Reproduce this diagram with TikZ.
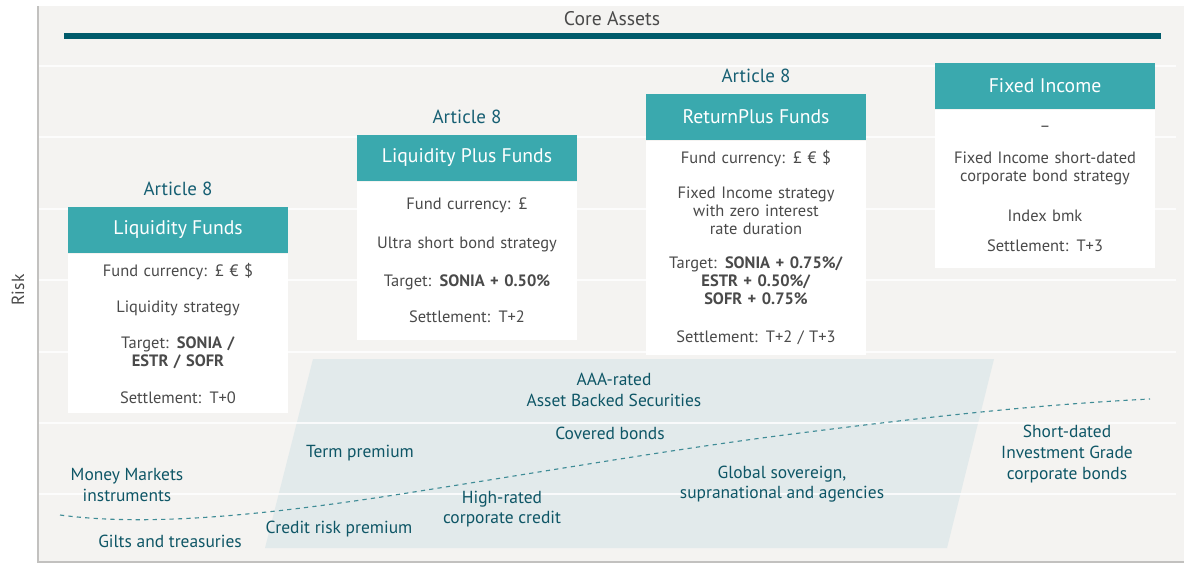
\documentclass[tikz,border=0pt]{standalone}
\usepackage{fontspec}
\setmainfont{PT Sans}
\usetikzlibrary{positioning}
\definecolor{panelbg}{HTML}{F4F3F1}
\definecolor{framegray}{HTML}{C2C1BF}
\definecolor{coreline}{HTML}{005B6B}
\definecolor{headteal}{HTML}{3AA9AE}
\definecolor{bodygray}{HTML}{4A4A4A}
\definecolor{arttxt}{HTML}{165F73}
\definecolor{assettxt}{HTML}{0E5666}
\definecolor{zonefill}{HTML}{E2EAEB}
\definecolor{curvecol}{HTML}{3F8C96}

\begin{document}
\begin{tikzpicture}[x=0.025cm,y=-0.025cm,
  header/.style={fill=headteal,text=white,minimum width=5.5cm,minimum height=1.15cm,
    inner sep=0pt,font=\fontsize{14}{16}\selectfont},
  body/.style={fill=white,text=bodygray,text width=5.5cm,align=center,inner sep=0pt,
    font=\fontsize{11.7}{12.8}\selectfont},
  artlabel/.style={text=arttxt,font=\fontsize{13.5}{16}\selectfont},
  asset/.style={text=assettxt,align=center,font=\fontsize{12.4}{14.6}\selectfont}]
  \useasboundingbox[fill=white] (0,0) rectangle (1200,575);

  % panel and grid
  \fill[panelbg] (37,6) rectangle (1184,562);
  \fill[zonefill] (313,359) -- (994,359) -- (947,548) -- (265,548) -- cycle;
  \foreach \y in {66,137,209,280,352,423,494}
    \draw[white,line width=1.1pt,opacity=0.8] (38,\y) -- (1176,\y);
  \draw[framegray,line width=1.4pt] (38,6) -- (38,562) -- (1184,562);

  % core assets
  \node[text=bodygray,font=\fontsize{14}{16}\selectfont] (core) at (612,19) {Core Assets};
  \draw[coreline,line width=4.2pt] (64,36) -- (1161,36);
  \node[rotate=90,text=bodygray,font=\fontsize{12.5}{14}\selectfont] (risk) at (18,290) {Risk};

  % funds
  \node[header] (lf) at (178,230) {Liquidity Funds};
  \node[body,minimum height=3.975cm,below=0pt of lf] (lfbody) {%
    Fund currency: £ € \$\\[13pt]
    Liquidity strategy\\[13pt]
    Target: \textbf{SONIA /}\\ \textbf{ESTR / SOFR}\\[13pt]
    Settlement: T+0};
  \node[artlabel,above=4pt of lf] (lfart) {Article 8};

  \node[header] (lpf) at (467,158) {Liquidity Plus Funds};
  \node[body,minimum height=3.95cm,below=0pt of lpf] (lpfbody) {%
    Fund currency: £\\[14.5pt]
    Ultra short bond strategy\\[14.5pt]
    Target: \textbf{SONIA + 0.50\%}\\[13pt]
    Settlement: T+2};
  \node[artlabel,above=4pt of lpf] (lpfart) {Article 8};

  \node[header] (rpf) at (756,117) {ReturnPlus Funds};
  \node[body,minimum height=5.35cm,below=0pt of rpf] (rpfbody) {%
    Fund currency: £ € \$\\[12pt]
    Fixed Income strategy\\ with zero interest\\ rate duration\\[11.5pt]
    Target: \textbf{SONIA + 0.75\%/}\\ \textbf{ESTR + 0.50\%/}\\ \textbf{SOFR + 0.75\%}\\[14pt]
    Settlement: T+2 / T+3};
  \node[artlabel,above=4pt of rpf] (rpfart) {Article 8};

  \node[header] (fi) at (1045,86) {Fixed Income};
  \node[body,minimum height=3.95cm,below=0pt of fi] (fibody) {%
    –\\[10pt]
    Fixed Income short-dated\\ corporate bond strategy\\[16pt]
    Index bmk\\[8pt]
    Settlement: T+3};

  % risk boundary
  \draw[curvecol,dashed,line width=0.8pt] (60,515) .. controls (150,527) and (270,515) .. (420,491)
    .. controls (560,469) and (680,448) .. (800,433)
    .. controls (950,414) and (1050,404) .. (1150,399);

  % asset classes
  \node[asset] (mm) at (127,485) {Money Markets\\ instruments};
  \node[asset] (gilts) at (170,541) {Gilts and treasuries};
  \node[asset] (crp) at (339,529) {Credit risk premium};
  \node[asset] (term) at (360,453) {Term premium};
  \node[asset] (hrc) at (502,509) {High-rated\\ corporate credit};
  \node[asset] (abs) at (614,390) {AAA-rated\\ Asset Backed Securities};
  \node[asset] (cov) at (610,433) {Covered bonds};
  \node[asset] (gov) at (782,484) {Global sovereign,\\ supranational and agencies};
  \node[asset] (ig) at (1067,454) {Short-dated\\ Investment Grade\\ corporate bonds};
\end{tikzpicture}
\end{document}
